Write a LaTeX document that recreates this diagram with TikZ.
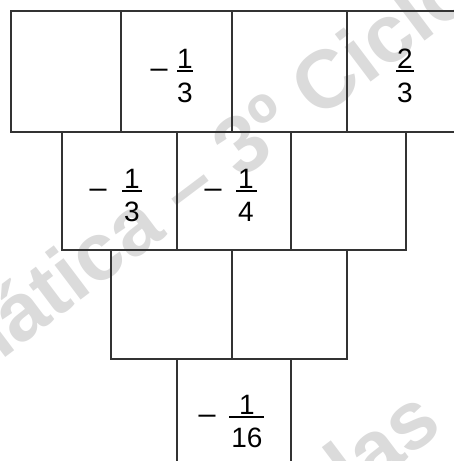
\documentclass[tikz,border=0pt]{standalone}
\usepackage{fontspec}
\setmainfont{Liberation Sans}
\usepackage{graphicx}
\begin{document}
\begin{tikzpicture}[x=1pt,y=1pt,
  cellbox/.style={draw=black!80, line width=1.3pt, rectangle, inner sep=0pt, outer sep=0pt, anchor=south west},
  num/.style={font=\fontsize{28}{28}\selectfont, inner sep=0pt, anchor=base},
  fbar/.style={draw=black, line width=1.4pt},
  wm/.style={text=black!14, font=\bfseries\fontsize{82}{82}\selectfont, inner sep=0pt, rotate=37}]
\useasboundingbox (0,0) rectangle (454,461);
\begin{scope}
\clip (0,0) rectangle (454,461);
% watermark
\node[wm, anchor=base] (wm1) at (145,209) {Matemática – 3º Ciclo};
\node[wm, anchor=base east] (wm2) at (445,31) {Aulas};
% row 1
\node[cellbox, minimum width=110, minimum height=121] (a1) at (11,329) {};
\node[cellbox, minimum width=111, minimum height=121] (a2) at (121,329) {};
\node[cellbox, minimum width=115, minimum height=121] (a3) at (232,329) {};
\node[cellbox, minimum width=115, minimum height=121] (a4) at (347,329) {};
% row 2
\node[cellbox, minimum width=115, minimum height=118] (b1) at (62,211) {};
\node[cellbox, minimum width=114, minimum height=118] (b2) at (177,211) {};
\node[cellbox, minimum width=115, minimum height=118] (b3) at (291,211) {};
% row 3
\node[cellbox, minimum width=121, minimum height=109] (c1) at (111,102) {};
\node[cellbox, minimum width=115, minimum height=109] (c2) at (232,102) {};
% row 4
\node[cellbox, minimum width=114, minimum height=130] (d1) at (177,-28) {};
\end{scope}
% fractions
% a2: -1/3
\node[num] (a2m) at (159,381) {\scalebox{1.25}[1]{−}};
\node[num] (a2n) at (185,392) {1};
\coordinate (a2l) at (177,390); \coordinate (a2r) at (193,390);
\draw[fbar] (a2l) -- (a2r);
\node[num] (a2d) at (185,358) {3};
% a4: 2/3
\node[num] (a4n) at (405,392) {2};
\coordinate (a4l) at (396,390); \coordinate (a4r) at (414,390);
\draw[fbar] (a4l) -- (a4r);
\node[num] (a4d) at (405,358) {3};
% b1: - 1/3
\node[num] (b1m) at (98,261) {\scalebox{1.25}[1]{−}};
\node[num] (b1n) at (132,272) {1};
\coordinate (b1l) at (122,270); \coordinate (b1r) at (142,270);
\draw[fbar] (b1l) -- (b1r);
\node[num] (b1d) at (132,239) {3};
% b2: - 1/4
\node[num] (b2m) at (213,261) {\scalebox{1.25}[1]{−}};
\node[num] (b2n) at (246,272) {1};
\coordinate (b2l) at (236,270); \coordinate (b2r) at (257,270);
\draw[fbar] (b2l) -- (b2r);
\node[num] (b2d) at (246,239) {4};
% d1: - 1/16
\node[num] (d1m) at (207,35) {\scalebox{1.25}[1]{−}};
\node[num] (d1n) at (247,46) {1};
\coordinate (d1l) at (229,44); \coordinate (d1r) at (264,44);
\draw[fbar] (d1l) -- (d1r);
\node[num] (d1d) at (247,13) {16};
\end{tikzpicture}
\end{document}
